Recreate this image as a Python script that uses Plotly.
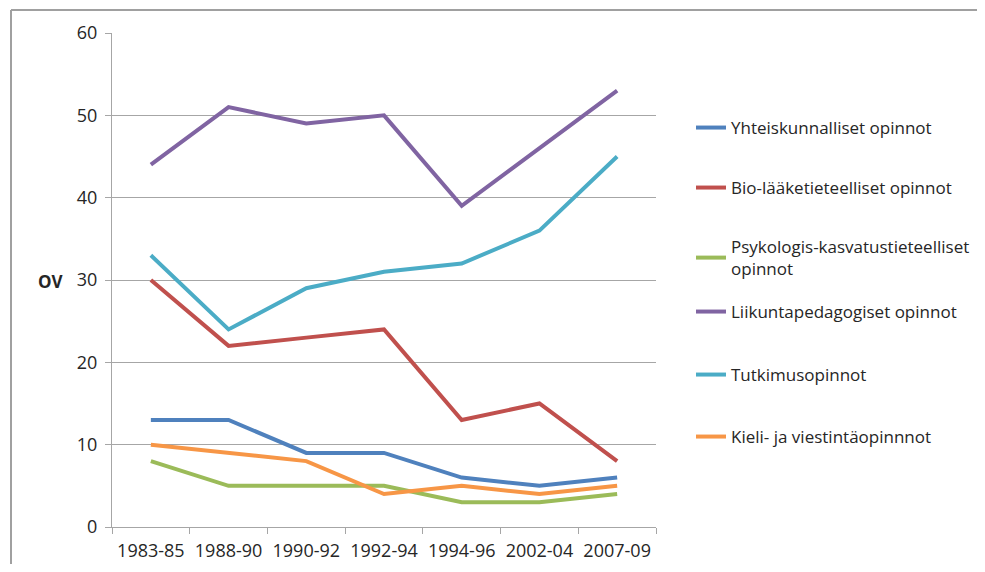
import plotly.graph_objects as go

periods = ["1983-85", "1988-90", "1990-92", "1992-94", "1994-96", "2002-04", "2007-09"]

yhteiskunnalliset = [13, 13, 9, 9, 6, 5, 6]
bio_laaketieteelliset = [30, 22, 23, 24, 13, 15, 8]
psykologis = [8, 5, 5, 5, 3, 3, 4]
liikuntapedagogiset = [44, 51, 49, 50, 39, 46, 53]
tutkimus = [33, 24, 29, 31, 32, 36, 45]
kieli = [10, 9, 8, 4, 5, 4, 5]

series_names = [
    "Yhteiskunnalliset opinnot",
    "Bio-lääketieteelliset opinnot",
    "Psykologis-kasvatustieteelliset<br>opinnot",
    "Liikuntapedagogiset opinnot",
    "Tutkimusopinnot",
    "Kieli- ja viestintäopinnnot",
]
series_values = [yhteiskunnalliset, bio_laaketieteelliset, psykologis,
                 liikuntapedagogiset, tutkimus, kieli]
colors = ["#4F81BD", "#C0504D", "#9BBB59", "#8064A2", "#4BACC6", "#F79646"]
# legend entry vertical centres (page pixels from top)
legend_centres = [128, 188, 258, 312, 375, 437]

FONT = "Open Sans"
TXT = "#262626"

OFF = 8  # default body margin of the page
W, H = 970, 556
# plot area in page pixels
PL, PR, PT, PB = 112, 656, 33, 527
L, R, T, B = PL - OFF, PR - OFF, PT - OFF, PB - OFF

def px_x(p):
    return (p - PL) / (PR - PL)

def px_y(p):
    return (PB - p) / (PB - PT)

fig = go.Figure()
legends = {}
for i, (name, vals, col) in enumerate(zip(series_names, series_values, colors)):
    lname = "legend" if i == 0 else f"legend{i + 1}"
    fig.add_trace(go.Scatter(
        x=periods, y=vals, name=name, mode="lines",
        line=dict(color=col, width=4),
        legend=lname,
    ))
    legends[lname] = dict(
        x=px_x(691), y=px_y(legend_centres[i]),
        xanchor="left", yanchor="middle",
        font=dict(family=FONT, size=17, color=TXT),
        bgcolor="rgba(0,0,0,0)", itemwidth=30,
    )

fig.update_layout(
    width=W, height=H,
    margin=dict(l=L, r=W - R, t=T, b=H - B, autoexpand=False),
    paper_bgcolor="white", plot_bgcolor="white",
    font=dict(family=FONT, size=18, color=TXT),
    showlegend=True,
    xaxis=dict(
        type="category", range=[-0.5, 6.5], showgrid=False, automargin=False,
        showline=True, linecolor="#A6A6A6", linewidth=1,
        ticks="outside", tickson="boundaries", ticklen=6, tickcolor="#A6A6A6",
        tickfont=dict(family=FONT, size=18, color=TXT),
        ticklabelstandoff=7,
    ),
    yaxis=dict(
        range=[0, 60], dtick=10, tick0=0, automargin=False,
        showgrid=True, gridcolor="#A6A6A6", gridwidth=1,
        showline=True, linecolor="#A6A6A6", linewidth=1,
        ticks="outside", ticklen=6, tickcolor="#A6A6A6",
        tickfont=dict(family=FONT, size=18, color=TXT),
        zeroline=False,
        ticklabelstandoff=4,
    ),
    annotations=[dict(
        text="<b>OV</b>", xref="paper", yref="paper",
        x=px_x(51), y=px_y(281), xanchor="center", yanchor="middle",
        showarrow=False, font=dict(family=FONT, size=17, color=TXT),
    )],
    shapes=[
        dict(type="line", xref="paper", yref="paper",
             x0=px_x(11), x1=px_x(11), y0=px_y(10), y1=px_y(600),
             line=dict(color="#A0A0A0", width=2)),
        dict(type="line", xref="paper", yref="paper",
             x0=px_x(11), x1=px_x(1000), y0=px_y(10), y1=px_y(10),
             line=dict(color="#A0A0A0", width=2)),
    ],
)
fig.update_layout(**legends)

fig.write_html("out.html")
